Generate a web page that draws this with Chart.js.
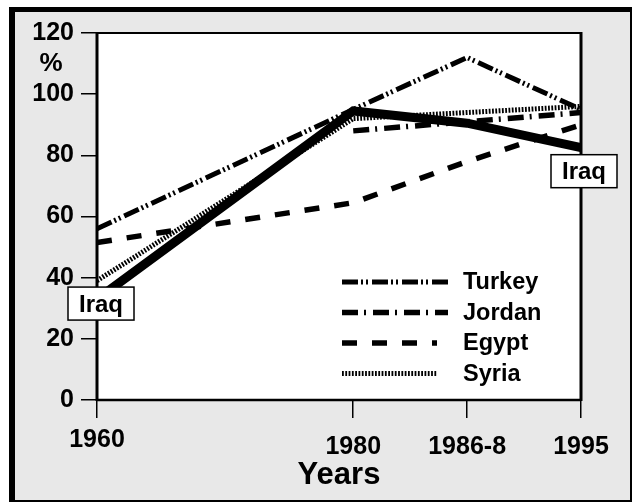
<!DOCTYPE html>
<html>
<head>
<meta charset="utf-8">
<script src="https://cdn.jsdelivr.net/npm/chart.js@4/dist/chart.umd.min.js"></script>
<style>
    html, body { margin: 0; padding: 0; background: #fff; }
    #frame {
        position: absolute; left: 9px; top: 7px; width: 623px; height: 495px;
        box-sizing: border-box; background: #e8e8e8;
        border-left: 6px solid #000; border-top: 5px solid #000;
        border-right: 2px solid #000; border-bottom: 2px solid #000;
    }
    #chart { position: absolute; left: 0; top: 0; }
</style>
</head>
<body>
<div id="frame"></div>
<canvas id="chart" width="632" height="502"></canvas>
<script>
"use strict";

// years on the x axis, and where they sit (the source axis is not to scale)
const years = ['1960', '1980', '1986-8', '1995'];
const yearSlots = [0, 9, 13, 17];

// % values
const turkey = [56, 95, 112, 95];
const jordan = [null, 88, 91, 94];
const egypt = [51.5, 64.5, 78, 90];
const syria = [39, 92, 94, 96];
const iraq = [33, 94.5, 90.5, 82.5];

const yMin = 0;
const yMax = 120;
const yStep = 20;

const FONT = '"Liberation Sans", Arial, sans-serif';

function points(values) {
    return values.map((v, i) => ({ x: yearSlots[i], y: v }));
}

// datasets for the legend (Iraq is labelled on the plot instead)
const legendRows = [
    { label: 'Turkey', len: 106 },
    { label: 'Jordan', len: 106 },
    { label: 'Egypt', len: 95 },
    { label: 'Syria', len: 95 }
];

const plotFrame = {
    id: 'plotFrame',
    beforeDraw(chart) {
        const a = chart.chartArea;
        const ctx = chart.ctx;
        ctx.save();
        ctx.fillStyle = '#fff';
        ctx.fillRect(a.left, a.top, a.right - a.left, a.bottom - a.top);
        ctx.restore();
    },
    afterDatasetsDraw(chart) {
        const a = chart.chartArea;
        const ctx = chart.ctx;
        ctx.save();
        ctx.strokeStyle = '#000';
        ctx.setLineDash([]);
        // border round the plot
        const side = (w, x1, y1, x2, y2) => {
            ctx.lineWidth = w;
            ctx.beginPath();
            ctx.moveTo(x1, y1);
            ctx.lineTo(x2, y2);
            ctx.stroke();
        };
        side(2, a.left, a.top, a.right, a.top);
        side(3, a.right, a.top - 1, a.right, a.bottom + 1);
        side(2.5, a.left, a.bottom, a.right, a.bottom);
        side(3, a.left, a.top - 1, a.left, a.bottom + 1);

        // % label under the 120 tick
        const y = chart.scales.y;
        ctx.fillStyle = '#000';
        ctx.font = 'bold 26px ' + FONT;
        ctx.textAlign = 'center';
        ctx.textBaseline = 'middle';
        ctx.fillText('%', 51, y.getPixelForValue(110));

        // legend inside the plot
        ctx.font = 'bold 23.5px ' + FONT;
        ctx.textAlign = 'left';
        const lx = a.right - 239;
        legendRows.forEach((row, i) => {
            const ds = chart.data.datasets.find(d => d.label === row.label);
            const ry = a.bottom - 118 + i * 30.5;
            ctx.lineWidth = ds.borderWidth;
            ctx.lineCap = 'butt';
            ctx.setLineDash(ds.borderDash || []);
            ctx.beginPath();
            ctx.moveTo(lx, ry);
            ctx.lineTo(lx + row.len, ry);
            ctx.stroke();
            ctx.setLineDash([]);
            ctx.fillText(row.label, lx + 121, ry + 1);
        });

        // Iraq boxes at both ends of its line
        const meta = chart.getDatasetMeta(chart.data.datasets.findIndex(d => d.label === 'Iraq'));
        const first = meta.data[0];
        const last = meta.data[meta.data.length - 1];
        ctx.font = 'bold 24px ' + FONT;
        const box = (cx, cy) => {
            ctx.fillStyle = '#fff';
            ctx.fillRect(cx - 33, cy - 17, 66, 33);
            ctx.lineWidth = 1.5;
            ctx.strokeRect(cx - 33, cy - 17, 66, 33);
            ctx.fillStyle = '#000';
            ctx.textAlign = 'center';
            ctx.fillText('Iraq', cx, cy + 1);
        };
        box(first.x + 4, first.y + 5);
        box(last.x + 3, last.y + 24);
        ctx.restore();
    }
};

const lineBase = {
    borderColor: '#000',
    backgroundColor: '#000',
    pointRadius: 0,
    tension: 0,
    fill: false,
    borderCapStyle: 'butt',
    borderJoinStyle: 'miter',
    spanGaps: false
};

const chart = new Chart(document.getElementById('chart'), {
    type: 'line',
    data: {
        datasets: [
            { ...lineBase, label: 'Iraq', data: points(iraq), borderWidth: 9, order: 1 },
            { ...lineBase, label: 'Turkey', data: points(turkey), borderWidth: 5, borderDash: [16, 3, 2, 3, 2, 4], order: 2 },
            { ...lineBase, label: 'Jordan', data: points(jordan), borderWidth: 5.5, borderDash: [16, 6, 2, 7], order: 3 },
            { ...lineBase, label: 'Egypt', data: points(egypt), borderWidth: 5.5, borderDash: [15, 15], order: 4 },
            { ...lineBase, label: 'Syria', data: points(syria), borderWidth: 5, borderDash: [1.8, 1.5], order: 5 }
        ]
    },
    options: {
        responsive: false,
        animation: false,
        layout: { padding: { left: 0, top: 33, right: 51, bottom: 0 } },
        plugins: {
            legend: { display: false },
            tooltip: { enabled: false }
        },
        scales: {
            x: {
                type: 'linear',
                min: yearSlots[0],
                max: yearSlots[yearSlots.length - 1],
                afterBuildTicks: scale => {
                    scale.ticks = yearSlots.map(v => ({ value: v }));
                },
                afterFit: scale => { scale.height = 102; },
                border: { display: false },
                grid: {
                    drawOnChartArea: false,
                    color: '#000',
                    lineWidth: 1.5,
                    tickLength: 18
                },
                ticks: {
                    autoSkip: false,
                    maxRotation: 0,
                    padding: 18,
                    color: '#000',
                    font: { family: FONT, size: 25, weight: 'bold', lineHeight: 0.3 },
                    callback: (v) => {
                        const i = yearSlots.indexOf(v);
                        // 1960 sits a little higher than the rest
                        return i === 0 ? [years[i]] : ['', years[i]];
                    }
                },
                title: {
                    display: true,
                    text: 'Years',
                    color: '#000',
                    padding: { top: 0, bottom: 8 },
                    font: { family: FONT, size: 31, weight: 'bold' }
                }
            },
            y: {
                min: yMin,
                max: yMax,
                afterFit: scale => { scale.width = 97; },
                border: { display: false },
                grid: {
                    drawOnChartArea: false,
                    color: '#000',
                    lineWidth: 1.5,
                    tickLength: 16
                },
                ticks: {
                    stepSize: yStep,
                    padding: 7,
                    color: '#000',
                    font: { family: FONT, size: 25, weight: 'bold' }
                }
            }
        }
    },
    plugins: [plotFrame]
});
</script>
</body>
</html>
